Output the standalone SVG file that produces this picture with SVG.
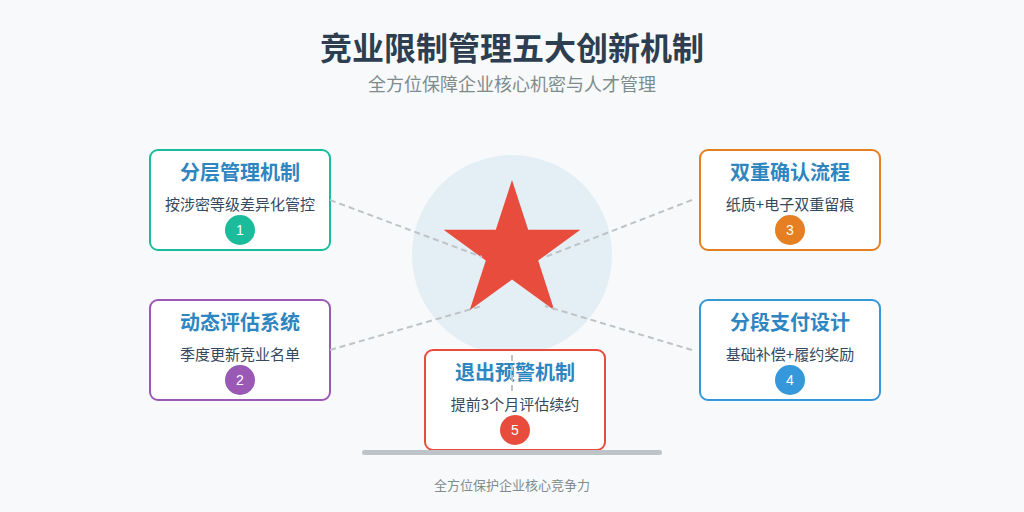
<svg xmlns="http://www.w3.org/2000/svg" width="1024" height="512" viewBox="0 0 1024 512">
<style>
text{font-family:"Noto Sans CJK SC","Liberation Sans",sans-serif;text-anchor:middle}
.box{fill:#fff;stroke-width:2}
.t{font-size:20px;font-weight:bold;fill:#2e86c1}
.s{font-size:15px;fill:#34495e}
.n{font-size:14px;fill:#fff;font-family:"Liberation Sans",sans-serif}
.c{stroke:#bdc3c7;stroke-width:2;stroke-dasharray:6 4;fill:none}
</style>
<rect width="1024" height="512" fill="#f7f9fa"/>
<text x="512" y="60" font-size="32" font-weight="bold" fill="#2c3e50">竞业限制管理五大创新机制</text>
<text x="512" y="91" font-size="18" fill="#7f8c8d">全方位保障企业核心机密与人才管理</text>
<circle cx="512" cy="255" r="100" fill="#e4eef5"/>
<polygon fill="#e74c3c" points="512,180 528.2,229.8 580.4,229.8 538.2,260.5 554.3,310.2 512,279.5 469.7,310.2 485.8,260.5 443.6,229.8 495.8,229.8"/>
<g id="n1"><rect class="box" x="150" y="150" width="180" height="100" rx="8" stroke="#1abc9c"/><text class="t" x="240" y="180">分层管理机制</text><text class="s" x="240" y="210">按涉密等级差异化管控</text><circle cx="240" cy="230" r="15" fill="#1abc9c"/><text class="n" x="240" y="235">1</text></g>
<g id="n2"><rect class="box" x="150" y="300" width="180" height="100" rx="8" stroke="#9b59b6"/><text class="t" x="240" y="330">动态评估系统</text><text class="s" x="240" y="360">季度更新竞业名单</text><circle cx="240" cy="380" r="15" fill="#9b59b6"/><text class="n" x="240" y="385">2</text></g>
<g id="n3"><rect class="box" x="700" y="150" width="180" height="100" rx="8" stroke="#e67e22"/><text class="t" x="790" y="180">双重确认流程</text><text class="s" x="790" y="210">纸质+电子双重留痕</text><circle cx="790" cy="230" r="15" fill="#e67e22"/><text class="n" x="790" y="235">3</text></g>
<g id="n4"><rect class="box" x="700" y="300" width="180" height="100" rx="8" stroke="#3498db"/><text class="t" x="790" y="330">分段支付设计</text><text class="s" x="790" y="360">基础补偿+履约奖励</text><circle cx="790" cy="380" r="15" fill="#3498db"/><text class="n" x="790" y="385">4</text></g>
<g id="n5"><rect class="box" x="425" y="350" width="180" height="100" rx="8" stroke="#e74c3c"/><text class="t" x="515" y="380">退出预警机制</text><text class="s" x="515" y="410">提前3个月评估续约</text><circle cx="515" cy="430" r="15" fill="#e74c3c"/><text class="n" x="515" y="435">5</text></g>
<g id="connectors">
<line class="c" x1="330" y1="200" x2="482" y2="257"/>
<line class="c" x1="330" y1="350" x2="482" y2="306"/>
<line class="c" x1="692" y1="200" x2="545" y2="257"/>
<line class="c" x1="692" y1="350" x2="545" y2="306"/>
<line class="c" x1="512" y1="355" x2="512" y2="392"/>
</g>
<rect x="362" y="450" width="300" height="5" rx="2.5" fill="#bdc3c7"/>
<text x="512" y="490" font-size="13" fill="#7f8c8d">全方位保护企业核心竞争力</text>
</svg>
